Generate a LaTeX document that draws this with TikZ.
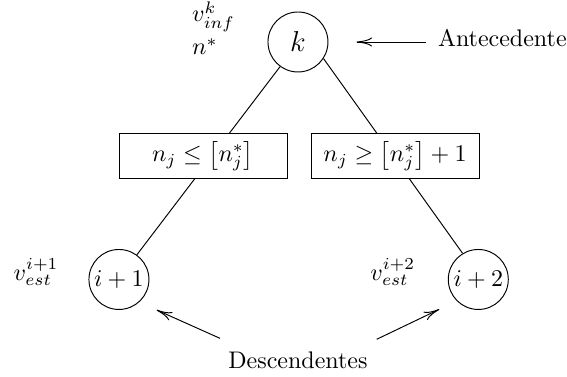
\documentclass[tikz,border=0pt]{standalone}
\usetikzlibrary{backgrounds,arrows.meta}
\begin{document}
\begin{tikzpicture}[>={To[length=6.5pt,width=3.8pt]},
  estado/.style={circle,draw,inner sep=0.5pt,minimum size=25pt},
  caja/.style={rectangle,draw,fill=white,minimum width=70pt,minimum height=17.5pt}]
\useasboundingbox (-4.364,-4.906) rectangle (3.940,0.615);
% nodos del arbol
\node[estado,font=\large] (k) at (0,0) {$k$};
\node[caja] (cizq) at (-1.391,-1.670) {$n_j \leq \left[n_j^*\right]$};
\node[caja] (cder) at (1.421,-1.670) {$n_j \geq \left[n_j^*\right]+1$};
\node[estado] (hizq) at (-2.622,-3.478) {$i+1$};
\node[estado] (hder) at (2.641,-3.478) {$i+2$};
% etiquetas
\node[anchor=base west] (vinf) at (-1.674,0.297) {$v_{inf}^k$};
\node[anchor=base west] (nast) at (-1.674,-0.190) {$n^*$};
\node[anchor=base west] (vest1) at (-4.287,-3.486) {$v_{est}^{i+1}$};
\node[anchor=base west] (vest2) at (0.937,-3.486) {$v_{est}^{i+2}$};
\node[anchor=base west] (antec) at (1.927,-0.069) {Antecedente};
\node[anchor=base] (desc) at (0,-4.789) {Descendentes};
\coordinate (dizq0) at (-1.142,-4.340);
\coordinate (dizq1) at (-2.070,-3.925);
\coordinate (dder0) at (1.153,-4.354);
\coordinate (dder1) at (2.070,-3.915);
% ramas
\begin{scope}[on background layer]
\draw (k.234)--(hizq.54);
\draw (k.327)--(hder.121);
\end{scope}
% flechas
\draw[->,shorten <=1.5pt,shorten >=11.7pt] (antec.west |- k)--(k.east);
\draw[->] (dizq0)--(dizq1);
\draw[->] (dder0)--(dder1);
\end{tikzpicture}
\end{document}
